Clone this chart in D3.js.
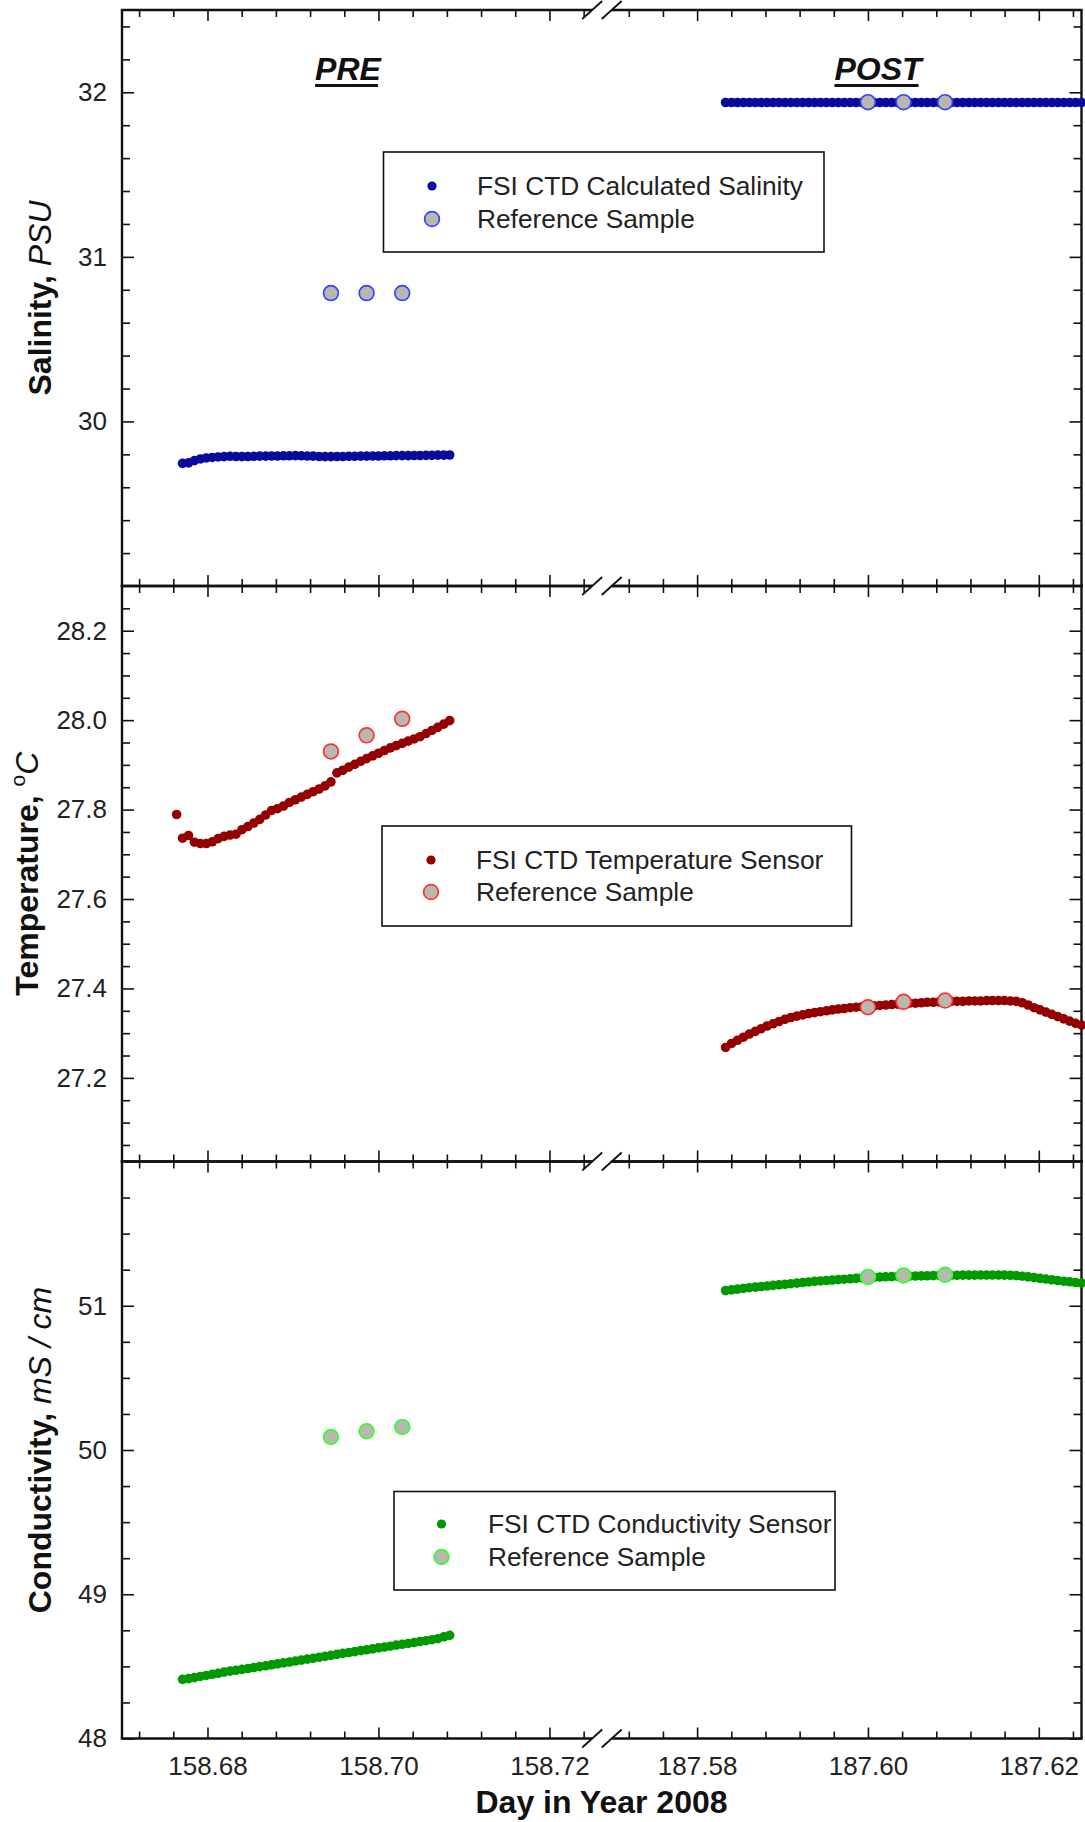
<!DOCTYPE html>
<html><head><meta charset="utf-8">
<script src="https://cdn.jsdelivr.net/npm/d3@7"></script>
<style>
html,body{margin:0;padding:0;background:#fff;}
svg{display:block;font-family:"Liberation Sans",Arial,Helvetica,sans-serif;}
</style></head>
<body>
<svg id="chart" width="1085" height="1822"></svg>
<script>
// ---------------- DATA ----------------
const preTimes = [158.67708,158.67778,158.67847,158.67917,158.67986,158.68056,158.68125,158.68194,158.68264,158.68333,
158.68403,158.68472,158.68542,158.68611,158.68681,158.68750,158.68819,158.68889,158.68958,158.69028,
158.69097,158.69167,158.69236,158.69306,158.69375,158.69444,158.69514,158.69583,158.69653,158.69722,
158.69792,158.69861,158.69931,158.70000,158.70069,158.70139,158.70208,158.70278,158.70347,158.70417,
158.70486,158.70556,158.70625,158.70694,158.70764,158.70833];
const tempPreExtraTime = [158.67639];
const postTimes = [187.58333,187.58403,187.58472,187.58542,187.58611,187.58681,187.58750,187.58819,187.58889,187.58958,
187.59028,187.59097,187.59167,187.59236,187.59306,187.59375,187.59444,187.59514,187.59583,187.59653,
187.59722,187.59792,187.59861,187.59931,187.60000,187.60069,187.60139,187.60208,187.60278,187.60347,
187.60417,187.60486,187.60556,187.60625,187.60694,187.60764,187.60833,187.60903,187.60972,187.61042,
187.61111,187.61181,187.61250,187.61319,187.61389,187.61458,187.61528,187.61597,187.61667,187.61736,
187.61806,187.61875,187.61944,187.62014,187.62083,187.62153,187.62222,187.62292,187.62361,187.62431,187.62500];

const salPre = [29.745,29.748,29.762,29.772,29.778,29.781,29.784,29.786,29.788,29.787,
29.786,29.787,29.788,29.789,29.789,29.790,29.790,29.791,29.791,29.792,
29.791,29.790,29.789,29.787,29.786,29.786,29.787,29.787,29.788,29.788,
29.789,29.789,29.790,29.790,29.791,29.791,29.792,29.792,29.792,29.793,
29.793,29.794,29.794,29.795,29.795,29.796];
const salPost = [31.938,31.938,31.938,31.938,31.938,31.938,31.938,31.938,31.938,31.938,
31.938,31.938,31.938,31.938,31.938,31.938,31.938,31.938,31.938,31.938,
31.938,31.938,31.938,31.938,31.938,31.938,31.938,31.938,31.938,31.938,
31.938,31.938,31.938,31.938,31.938,31.938,31.938,31.938,31.938,31.938,
31.938,31.938,31.938,31.938,31.938,31.938,31.938,31.938,31.938,31.938,
31.938,31.938,31.938,31.938,31.938,31.938,31.938,31.938,31.938,31.938,31.938];

const tempPreExtra = [27.789];
const tempPre = [27.736,27.742,27.727,27.724,27.724,27.728,27.735,27.740,27.743,27.745,
27.755,27.762,27.770,27.778,27.788,27.798,27.802,27.808,27.816,27.822,
27.828,27.834,27.840,27.846,27.853,27.862,27.882,27.888,27.895,27.901,
27.908,27.914,27.920,27.926,27.932,27.938,27.943,27.948,27.953,27.958,
27.963,27.970,27.977,27.984,27.991,27.999];
const tempPost = [27.268,27.277,27.284,27.291,27.298,27.304,27.310,27.316,27.321,27.326,
27.331,27.335,27.338,27.341,27.344,27.346,27.348,27.350,27.352,27.354,
27.355,27.357,27.358,27.359,27.360,27.361,27.362,27.363,27.364,27.365,
27.366,27.367,27.367,27.368,27.369,27.369,27.370,27.370,27.371,27.371,
27.371,27.372,27.372,27.372,27.373,27.373,27.373,27.373,27.372,27.371,
27.368,27.363,27.357,27.352,27.347,27.342,27.337,27.332,27.327,27.322,27.318];

const condPre = [48.410,48.415,48.422,48.430,48.437,48.445,48.452,48.460,48.467,48.473,
48.479,48.485,48.492,48.498,48.504,48.511,48.517,48.524,48.530,48.537,
48.543,48.550,48.556,48.563,48.569,48.576,48.583,48.590,48.596,48.602,
48.609,48.615,48.621,48.628,48.634,48.640,48.647,48.653,48.659,48.665,
48.672,48.678,48.685,48.692,48.705,48.715];
const condPost = [51.105,51.110,51.115,51.120,51.125,51.129,51.133,51.137,51.141,51.145,
51.149,51.153,51.157,51.161,51.165,51.169,51.172,51.175,51.178,51.181,
51.184,51.187,51.190,51.193,51.195,51.197,51.199,51.201,51.202,51.203,
51.204,51.205,51.206,51.207,51.208,51.209,51.210,51.210,51.211,51.211,
51.212,51.212,51.212,51.213,51.213,51.213,51.213,51.212,51.211,51.209,
51.205,51.200,51.195,51.190,51.185,51.180,51.175,51.170,51.166,51.161,51.157];

const refPreTimes  = [158.69444,158.69861,158.70278];
const refPostTimes = [187.60000,187.60417,187.60903];
const salRefPre  = [30.78,30.78,30.78];
const salRefPost = [31.940,31.940,31.940];
const tempRefPre  = [27.930,27.966,28.003];
const tempRefPost = [27.358,27.370,27.373];
const condRefPre  = [50.09,50.13,50.16];
const condRefPost = [51.200,51.210,51.215];

const xDomainPre  = [158.670,158.725];
const xDomainPost = [187.570,187.625];
const xMajorPre  = [158.68,158.70,158.72];
const xMajorPost = [187.58,187.60,187.62];
const xLabelsPre  = ["158.68","158.70","158.72"];
const xLabelsPost = ["187.58","187.60","187.62"];

const salTicks  = [30,31,32];
const tempTicks = [27.2,27.4,27.6,27.8,28.0,28.2];
const condTicks = [48,49,50,51];

const legendSal  = ["FSI CTD Calculated Salinity","Reference Sample"];
const legendTemp = ["FSI CTD Temperature Sensor","Reference Sample"];
const legendCond = ["FSI CTD Conductivity Sensor","Reference Sample"];

// ---------------- LAYOUT ----------------
const L = 122, R = 1081.5, breakL = 592.2, breakR = 611.7;
const svg = d3.select("#chart");
svg.append("rect").attr("width",1085).attr("height",1822).attr("fill","#fff");

const xPre  = d3.scaleLinear().domain(xDomainPre).range([L, breakL]);
const xPost = d3.scaleLinear().domain(xDomainPost).range([breakR, R]);
const xS = t => (t < 170 ? xPre(t) : xPost(t));

const panels = [
  {top:10, bottom:586, domain:[29,32.5], major:salTicks, fmt:d3.format("d"), minor:[29.2,29.4,29.6,29.8,30.2,30.4,30.6,30.8,31.2,31.4,31.6,31.8,32.2,32.4],
   dot:"#0a0a9c", refStroke:"#3344ff",
   series:[[preTimes,salPre],[postTimes,salPost]], refs:[[refPreTimes,salRefPre],[refPostTimes,salRefPost]],
   legend:legendSal, box:[383.5,152,824,252], lx:432, ly:[186,219], tx:477,
   title:[{t:"Salinity, ",b:true},{t:"PSU",i:true}], titleX:51},
  {top:586, bottom:1161.5, domain:[27.013,28.3], major:tempTicks, fmt:d3.format(".1f"),
   minor:[27.05,27.1,27.15,27.25,27.3,27.35,27.45,27.5,27.55,27.65,27.7,27.75,27.85,27.9,27.95,28.05,28.1,28.15,28.25],
   dot:"#940000", refStroke:"#ff3333",
   series:[[tempPreExtraTime,tempPreExtra],[preTimes,tempPre],[postTimes,tempPost]], refs:[[refPreTimes,tempRefPre],[refPostTimes,tempRefPost]],
   legend:legendTemp, box:[382,826,851.5,926], lx:431, ly:[860,892], tx:476,
   title:[{t:"Temperature, ",b:true},{t:"o",sup:true},{t:"C",i:true}], titleX:38},
  {top:1161.5, bottom:1738.5, domain:[48,52], major:condTicks, fmt:d3.format("d"),
   minor:[48.25,48.5,48.75,49.25,49.5,49.75,50.25,50.5,50.75,51.25,51.5,51.75],
   dot:"#009a00", refStroke:"#33ff33",
   series:[[preTimes,condPre],[postTimes,condPost]], refs:[[refPreTimes,condRefPre],[refPostTimes,condRefPost]],
   legend:legendCond, box:[394,1491.5,835,1590], lx:441.5, ly:[1524,1557], tx:488,
   title:[{t:"Conductivity, ",b:true},{t:"mS / cm",i:true}], titleX:51}
];

const xMinorPre = [158.672,158.676,158.684,158.688,158.692,158.696,158.704,158.708,158.712,158.716,158.724];
const xMinorPost = [187.572,187.576,187.584,187.588,187.592,187.596,187.604,187.608,187.612,187.616,187.624];
const ink = "#111";

panels.forEach((p, pi) => {
  const y = d3.scaleLinear().domain(p.domain).range([p.bottom, p.top]);
  const g = svg.append("g");

  const left = g.append("g").attr("transform",`translate(${L},0)`);
  left.call(d3.axisLeft(y).tickValues(p.minor).tickSize(-8).tickFormat(""));
  left.append("g").call(d3.axisLeft(y).tickValues(p.major).tickSize(-12).tickPadding(15).tickFormat(p.fmt));
  const right = g.append("g").attr("transform",`translate(${R},0)`);
  right.call(d3.axisRight(y).tickValues(p.minor).tickSize(-8).tickFormat(""));
  right.append("g").call(d3.axisRight(y).tickValues(p.major).tickSize(-12).tickFormat(""));
  [left,right].forEach(a => {
    a.selectAll(".domain").remove();
    a.selectAll("line").attr("stroke",ink).attr("stroke-width",1.6);
    a.selectAll("text").attr("font-size",26).attr("fill","#222").attr("font-family","Liberation Sans, Arial, sans-serif");
  });

  [[xPre,xMinorPre,xMajorPre],[xPost,xMinorPost,xMajorPost]].forEach(([xs,mn,mj],si) => {
    const bot = g.append("g").attr("transform",`translate(0,${p.bottom})`);
    bot.call(d3.axisBottom(xs).tickValues(mn).tickSize(-7).tickFormat(""));
    bot.append("g").call(d3.axisBottom(xs).tickValues(mj).tickSize(-11).tickPadding(18)
       .tickFormat((d,i)=> pi===2 ? (si===0?xLabelsPre:xLabelsPost)[i] : ""));
    const top = g.append("g").attr("transform",`translate(0,${p.top})`);
    top.call(d3.axisTop(xs).tickValues(mn).tickSize(-7).tickFormat(""));
    top.append("g").call(d3.axisTop(xs).tickValues(mj).tickSize(-11).tickFormat(""));
    [bot,top].forEach(a=>{
      a.selectAll(".domain").remove();
      a.selectAll("line").attr("stroke",ink).attr("stroke-width",1.6);
      a.selectAll("text").attr("font-size",26).attr("fill","#222").attr("font-family","Liberation Sans, Arial, sans-serif");
    });
  });

  const fr = g.append("g").attr("stroke",ink).attr("stroke-width",2.4).attr("fill","none");
  fr.append("line").attr("x1",L).attr("x2",L).attr("y1",p.top).attr("y2",p.bottom);
  fr.append("line").attr("x1",R).attr("x2",R).attr("y1",p.top).attr("y2",p.bottom);
  [p.top,p.bottom].forEach(yy=>{
    fr.append("line").attr("x1",L-1.2).attr("x2",breakL).attr("y1",yy).attr("y2",yy);
    fr.append("line").attr("x1",breakR).attr("x2",R+1.2).attr("y1",yy).attr("y2",yy);
  });

  const dots = g.append("g");
  p.series.forEach(([ts,vs]) => {
    dots.selectAll(null).data(ts.map((t,i)=>[t,vs[i]])).join("circle")
      .attr("cx",d=>xS(d[0])).attr("cy",d=>y(d[1])).attr("r",4.8).attr("fill",p.dot);
  });
  p.refs.forEach(([ts,vs]) => {
    dots.selectAll(null).data(ts.map((t,i)=>[t,vs[i]])).join("circle")
      .attr("cx",d=>xS(d[0])).attr("cy",d=>y(d[1])).attr("r",7.4)
      .attr("fill","#b8b8ae").attr("stroke",p.refStroke).attr("stroke-width",1.7);
  });

  const [bx0,by0,bx1,by1] = p.box;
  const lg = g.append("g");
  lg.append("rect").attr("x",bx0).attr("y",by0).attr("width",bx1-bx0).attr("height",by1-by0)
    .attr("fill","#fff").attr("stroke",ink).attr("stroke-width",1.6);
  lg.append("circle").attr("cx",p.lx).attr("cy",p.ly[0]).attr("r",4.6).attr("fill",p.dot);
  lg.append("circle").attr("cx",p.lx).attr("cy",p.ly[1]).attr("r",7.4).attr("fill","#b8b8ae")
    .attr("stroke",p.refStroke).attr("stroke-width",1.7);
  p.legend.forEach((s,i)=>{
    lg.append("text").attr("x",p.tx).attr("y",p.ly[i]).attr("dy","0.35em")
      .attr("font-size",26.3).attr("fill","#222").text(s);
  });

  const cy = (p.top+p.bottom)/2;
  const tt = g.append("text").attr("transform",`translate(${p.titleX},${cy}) rotate(-90)`)
    .attr("text-anchor","middle").attr("font-size",32).attr("fill","#111");
  p.title.forEach(s=>{
    const ts = tt.append("tspan").text(s.t);
    if (s.b) ts.attr("font-weight","bold");
    if (s.i) ts.attr("font-style","italic");
    if (s.sup) ts.attr("font-size",21).attr("dy",-13);
    if (s.t==="C") ts.attr("dy",13);
  });

  const bk = g.append("g").attr("stroke",ink).attr("stroke-width",1.8);
  [p.top,p.bottom].forEach(yy=>{
    if (pi>0 && yy===p.top) return;
    [breakL, breakR].forEach(bx=>{
      bk.append("line").attr("x1",bx-10).attr("y1",yy+9).attr("x2",bx+10).attr("y2",yy-9);
    });
  });
});

[["PRE",348],["POST",878]].forEach(([s,cx])=>{
  const t = svg.append("text").attr("x",cx).attr("y",80).attr("text-anchor","middle")
    .attr("font-size",32).attr("font-weight","bold").attr("font-style","italic").attr("fill","#111").text(s);
  const w = t.node().getComputedTextLength();
  svg.append("line").attr("x1",cx-w/2).attr("x2",cx+w/2-3).attr("y1",85.5).attr("y2",85.5)
    .attr("stroke","#111").attr("stroke-width",3);
});

svg.append("text").attr("x",601.5).attr("y",1813).attr("text-anchor","middle")
  .attr("font-size",32).attr("font-weight","bold").attr("fill","#111").text("Day in Year 2008");
</script>
</body></html>
